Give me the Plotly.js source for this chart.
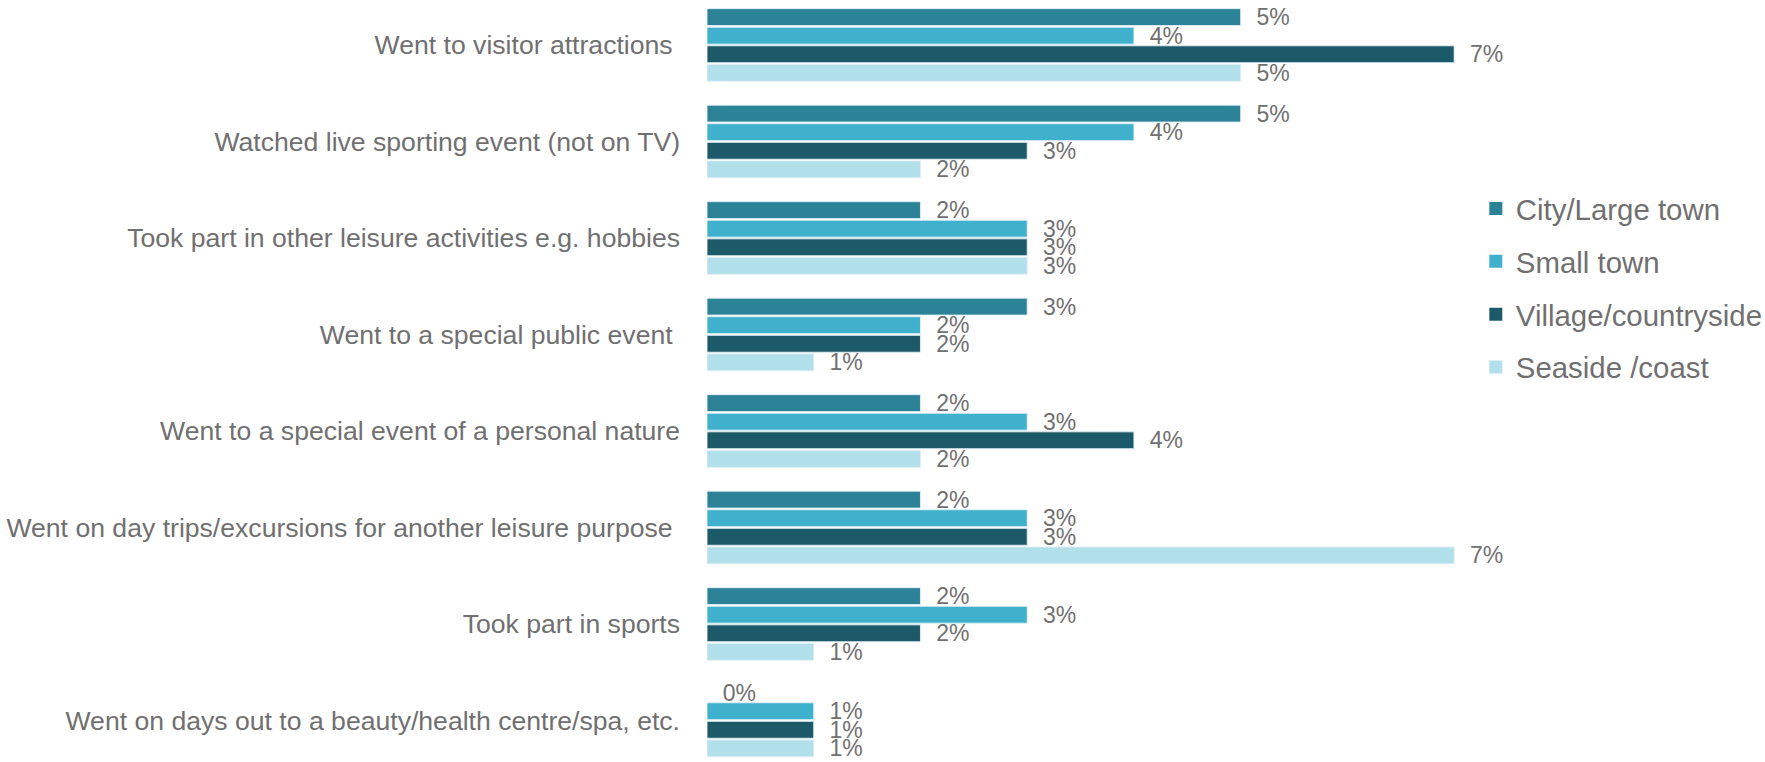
<!DOCTYPE html>
<html>
<head>
<meta charset="utf-8">
<script src="https://cdn.plot.ly/plotly-3.0.1.min.js"></script>
<style>html,body{margin:0;padding:0;background:#fff;}#chart{width:1765px;height:762px;}</style>
</head>
<body>
<div id="chart"></div>
<script>
const categories = [
  "Went to visitor attractions\u00a0",
  "Watched live sporting event (not on TV)",
  "Took part in other leisure activities e.g. hobbies",
  "Went to a special public event\u00a0",
  "Went to a special event of a personal nature",
  "Went on day trips/excursions for another leisure purpose\u00a0",
  "Took part in sports",
  "Went on days out to a beauty/health centre/spa, etc."
];
const seriesNames = ["City/Large town", "Small town", "Village/countryside", "Seaside /coast"];
const cityLargeTown = [5, 5, 2, 3, 2, 2, 2, 0];
const smallTown = [4, 4, 3, 2, 3, 3, 3, 1];
const villageCountryside = [7, 3, 3, 2, 4, 3, 2, 1];
const seasideCoast = [5, 2, 3, 1, 2, 7, 1, 1];
const colors = ["#2C8397", "#3FB1CD", "#1D5A69", "#B1E0EB"];

const seriesValues = [cityLargeTown, smallTown, villageCountryside, seasideCoast];
const textColor = "#707070";
const font = "Liberation Sans, Arial, sans-serif";

const barTraces = seriesValues.map((vals, i) => ({
  type: "bar",
  orientation: "h",
  name: seriesNames[i],
  showlegend: false,
  y: categories,
  x: vals,
  text: vals.map(v => "\u00a0\u00a0" + v + "%"),
  textposition: "outside",
  constraintext: "none",
  cliponaxis: false,
  textangle: 0,
  textfont: {family: font, size: 23, color: textColor},
  marker: {
    color: colors[i],
    line: {color: "rgba(225,240,245,0.9)", width: vals.map(v => v === 0 ? 0 : 1)}
  },
  hoverinfo: "skip"
}));

const legendTraces = seriesNames.map((name, i) => ({
  type: "scatter",
  mode: "markers",
  name: name,
  legendgroup: "g" + i,
  x: [null],
  y: [null],
  marker: {symbol: "square", size: 13, color: colors[i]},
  hoverinfo: "skip"
}));

const layout = {
  width: 1765,
  height: 762,
  margin: {l: 707, r: 44, t: 0, b: 0, pad: 0, autoexpand: false},
  paper_bgcolor: "#ffffff",
  plot_bgcolor: "#ffffff",
  barmode: "group",
  bargap: 0.23,
  bargroupgap: 0.09,
  font: {family: font, color: textColor},
  xaxis: {range: [0, 9.5], visible: false, fixedrange: true},
  yaxis: {
    type: "category",
    categoryorder: "array",
    categoryarray: categories,
    range: [7.43, -0.466],
    showgrid: false,
    zeroline: false,
    showline: false,
    ticks: "",
    ticklabelstandoff: 26,
    tickfont: {family: font, size: 26.6, color: textColor}
  },
  showlegend: true,
  legend: {
    x: 0.7582,
    xanchor: "left",
    y: 0.760,
    yanchor: "top",
    traceorder: "grouped",
    tracegroupgap: 11.6,
    itemsizing: "trace",
    font: {family: font, size: 29.4, color: textColor},
    bgcolor: "rgba(0,0,0,0)"
  }
};

Plotly.newPlot("chart", barTraces.concat(legendTraces), layout, {displayModeBar: false, staticPlot: true});
</script>
</body>
</html>
